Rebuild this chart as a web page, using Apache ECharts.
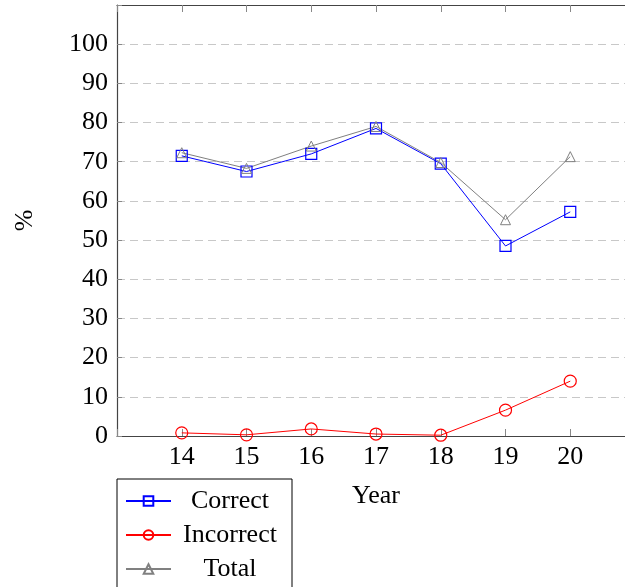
<!DOCTYPE html>
<html>
<head>
<meta charset="utf-8">
<script src="https://cdn.jsdelivr.net/npm/echarts@6/dist/echarts.min.js"></script>
<style>html,body{margin:0;padding:0;background:#fff}#c{width:625px;height:587px}</style>
</head>
<body>
<div id="c"></div>
<script>
var years = [14, 15, 16, 17, 18, 19, 20];
var correct = [71.5, 67.5, 72.0, 78.5, 69.5, 48.5, 57.2];
var incorrect = [0.8, 0.3, 1.8, 0.5, 0.2, 6.6, 14.0];
var total = [72.3, 68.3, 74.0, 79.0, 69.8, 55.2, 71.3];
var seriesNames = ['Correct', 'Incorrect', 'Total'];

function pairs(v) { return years.map(function (y, i) { return [y, v[i]]; }); }

var FONT = 'Liberation Serif';
var FS = 26;
var chart = echarts.init(document.getElementById('c'), null, {renderer: 'canvas'});
var axisLineStyle = {color: '#444', width: 1.2};
chart.setOption({
  animation: false,
  backgroundColor: '#fff',
  textStyle: {fontFamily: FONT},
  grid: {left: 117, top: 5, right: -10, bottom: 151, outerBoundsMode: 'none', containLabel: false},
  legend: {
    orient: 'vertical', left: 117, top: 479, height: 110,
    data: seriesNames,
    borderColor: '#000', borderWidth: 1,
    padding: [9, 8, 14, 8],
    itemWidth: 45, itemHeight: 12, itemGap: 8,
    formatter: function (n) { return '{a|' + n + '}'; },
    textStyle: {
      fontFamily: FONT, fontSize: FS, color: '#000',
      rich: {a: {fontFamily: FONT, fontSize: FS, width: 108, align: 'center', lineHeight: 27}}
    }
  },
  xAxis: [{
    type: 'value', min: 13, max: 21, interval: 1,
    name: 'Year', nameLocation: 'middle', nameGap: 47,
    nameTextStyle: {fontFamily: FONT, fontSize: FS, color: '#000'},
    axisLine: {onZero: false, lineStyle: axisLineStyle},
    axisTick: {inside: true, length: 7, lineStyle: {color: '#888'}},
    axisLabel: {fontFamily: FONT, fontSize: FS, color: '#000', margin: 8,
      formatter: function (v) { return (v >= 14 && v <= 20) ? String(v) : ''; }},
    splitLine: {show: false}
  }, {
    type: 'value', position: 'top', min: 13, max: 21, interval: 1,
    axisLine: {onZero: false, lineStyle: axisLineStyle},
    axisTick: {inside: true, length: 7, lineStyle: {color: '#888'}},
    axisLabel: {show: false},
    splitLine: {show: false}
  }],
  yAxis: {
    type: 'value', min: 0, max: 110, interval: 10,
    name: '%', nameLocation: 'middle', nameGap: 79, nameRotate: 90,
    nameTextStyle: {fontFamily: FONT, fontSize: FS, color: '#000'},
    axisLine: {show: true, onZero: false, lineStyle: axisLineStyle},
    axisTick: {show: true, inside: true, length: 5, lineStyle: {color: '#888'}},
    axisLabel: {fontFamily: FONT, fontSize: FS, color: '#000', margin: 9,
      formatter: function (v) { return v <= 100 ? String(v) : ''; }},
    splitLine: {show: true, lineStyle: {color: '#c8c8c8', type: [8, 5], width: 1}}
  },
  series: [{
    name: 'Correct', type: 'line', data: pairs(correct),
    symbol: 'rect', symbolSize: 11, color: '#0000ff',
    lineStyle: {color: '#0000ff', width: 1},
    itemStyle: {color: 'rgba(255,255,255,0)', borderColor: '#0000ff', borderWidth: 1.2}
  }, {
    name: 'Incorrect', type: 'line', data: pairs(incorrect),
    symbol: 'circle', symbolSize: 12, color: '#ff0000',
    lineStyle: {color: '#ff0000', width: 1},
    itemStyle: {color: 'rgba(255,255,255,0)', borderColor: '#ff0000', borderWidth: 1.2}
  }, {
    name: 'Total', type: 'line', data: pairs(total),
    symbol: 'triangle', symbolSize: 10, color: '#808080',
    lineStyle: {color: '#808080', width: 1},
    itemStyle: {color: 'rgba(255,255,255,0)', borderColor: '#808080', borderWidth: 1}
  }]
});
</script>
</body>
</html>
